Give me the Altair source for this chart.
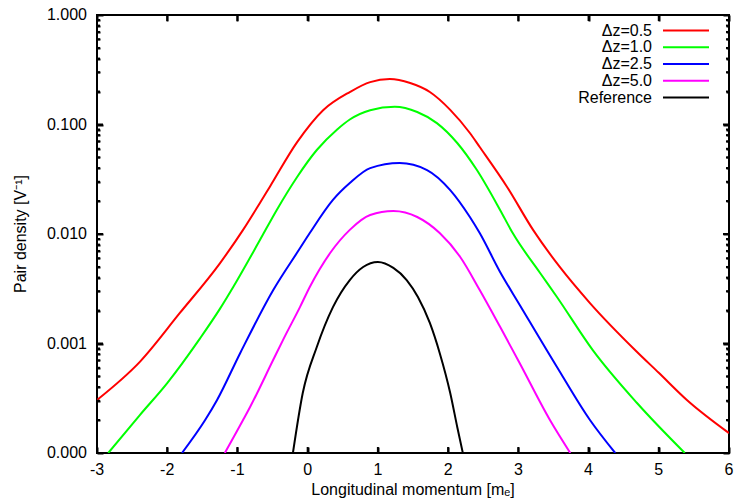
import altair as alt
import pandas as pd

# ---- data -------------------------------------------------------------
series_names = ["Δz=0.5", "Δz=1.0", "Δz=2.5", "Δz=5.0", "Reference"]
series_colors = ["#ff0000", "#00ff00", "#0000ff", "#ff00ff", "#000000"]

x_dz05 = [-3.0, -2.39, -1.82, -1.25, -0.92, -0.68, -0.54, -0.15, 0.22, 0.60, 0.89, 1.17,
          1.46, 1.74, 2.03, 2.31, 2.45, 2.84, 3.21, 3.59, 4.02, 4.68, 5.0, 5.40, 6.0]
y_dz05 = [3.05e-4, 6.8e-4, 1.90e-3, 5.4e-3, 1.09e-2, 1.92e-2, 2.69e-2, 6.9e-2, 0.135, 0.198,
          0.244, 0.260, 0.239, 0.198, 0.136, 0.0836, 0.0623, 0.0269, 0.0109, 5.0e-3, 2.34e-3,
          8.5e-4, 5.4e-4, 3.05e-4, 1.52e-4]

x_dz10 = [-2.84, -2.39, -2.0, -1.53, -1.25, -1.06, -0.68, -0.44, -0.15, 0.13, 0.42, 0.60,
          0.89, 1.24, 1.56, 1.84, 2.13, 2.41, 2.74, 2.92, 3.31, 3.55, 4.06, 4.69, 5.37]
y_dz10 = [1.0e-4, 2.22e-4, 4.35e-4, 1.12e-3, 2.07e-3, 3.28e-3, 8.8e-3, 1.66e-2, 3.32e-2,
          5.85e-2, 9.0e-2, 0.111, 0.135, 0.145, 0.130, 0.103, 0.0678, 0.0384, 0.0166,
          0.0102, 4.4e-3, 2.66e-3, 8.7e-4, 2.86e-4, 1.0e-4]

x_dz25 = [-1.79, -1.46, -1.29, -0.96, -0.49, -0.11, 0.03, 0.36, 0.60, 0.89, 1.31, 1.70,
          2.03, 2.31, 2.45, 2.74, 3.02, 3.55, 4.02, 4.38]
y_dz25 = [1.0e-4, 2.0e-4, 3.05e-4, 8.2e-4, 3.08e-3, 7.4e-3, 1.02e-2, 2.05e-2, 2.92e-2,
          4.0e-2, 4.45e-2, 3.84e-2, 2.52e-2, 1.43e-2, 1.02e-2, 4.5e-3, 2.25e-3, 6.1e-4,
          2.0e-4, 1.0e-4]

x_dz50 = [-1.18, -0.92, -0.82, -0.49, -0.35, -0.11, 0.03, 0.32, 0.60, 0.89, 1.22, 1.56,
          1.88, 2.17, 2.45, 2.74, 3.02, 3.45, 3.74]
y_dz50 = [1.0e-4, 2.0e-4, 2.63e-4, 7.1e-4, 1.08e-3, 2.15e-3, 3.28e-3, 6.7e-3, 1.09e-2,
          1.49e-2, 1.62e-2, 1.43e-2, 1.02e-2, 6.2e-3, 3.08e-3, 1.42e-3, 6.6e-4, 2.0e-4,
          1.0e-4]

x_ref = [-0.21, -0.07, 0.13, 0.36, 0.60, 0.79, 1.00, 1.22, 1.41, 1.57, 1.74, 1.88, 2.03,
         2.13, 2.21]
y_ref = [1.0e-4, 3.53e-4, 9.3e-4, 2.15e-3, 3.8e-3, 5.0e-3, 5.55e-3, 4.9e-3, 3.8e-3,
         2.66e-3, 1.54e-3, 8.2e-4, 3.53e-4, 1.73e-4, 1.0e-4]

x_ticks = [-3, -2, -1, 0, 1, 2, 3, 4, 5, 6]
x_tick_labels = ["-3", "-2", "-1", "0", "1", "2", "3", "4", "5", "6"]
y_ticks = [1e-4, 1e-3, 1e-2, 1e-1, 1.0]
y_tick_labels = ["0.000", "0.001", "0.010", "0.100", "1.000"]
y_minor = [k * 10.0 ** e for e in range(-4, 0) for k in range(2, 10)]
x_title = "Longitudinal momentum [mₑ]"
y_title = "Pair density [V⁻¹]"

# ---- build tables -------------------------------------------------------
rows = []
for name, xs, ys in zip(series_names,
                        [x_dz05, x_dz10, x_dz25, x_dz50, x_ref],
                        [y_dz05, y_dz10, y_dz25, y_dz50, y_ref]):
    for xv, yv in zip(xs, ys):
        rows.append({"series": name, "x": xv, "y": yv})
df = pd.DataFrame(rows)
xt = pd.DataFrame({"v": x_ticks, "lab": x_tick_labels})
yt = pd.DataFrame({"v": y_ticks, "lab": y_tick_labels})
ym = pd.DataFrame({"v": y_minor})
leg = pd.DataFrame({"label": series_names})
xtitle_df = pd.DataFrame({"t": [x_title]})
ytitle_df = pd.DataFrame({"t": [y_title]})

W, H = 632, 438
FONT = "Liberation Sans"
FS = 16

xscale = alt.Scale(domain=[-3, 6], nice=False, zero=False)
yscale = alt.Scale(type="log", domain=[1e-4, 1.0], nice=False)
cscale = alt.Scale(domain=series_names, range=series_colors)


def tick_axis(orient, values, size):
    return alt.Axis(orient=orient, values=values, tickSize=size, offset=-size,
                    labels=False, title=None, grid=False, domainOpacity=0,
                    tickColor="#000000", tickWidth=2)


X = lambda f: alt.X(f, scale=xscale, axis=None)
Y = lambda f: alt.Y(f, scale=yscale, axis=None)

lines = alt.Chart(df).mark_line(strokeWidth=2, clip=True, interpolate="monotone").encode(
    x=alt.X("x:Q", scale=xscale, axis=tick_axis("bottom", x_ticks, 6)),
    y=alt.Y("y:Q", scale=yscale, axis=tick_axis("left", y_ticks, 6)),
    color=alt.Color("series:N", scale=cscale, legend=None),
    detail="series:N",
)

ghost = alt.Chart(df).mark_point(opacity=0)
g_top_right = ghost.encode(
    x=alt.X("x:Q", scale=xscale, axis=tick_axis("top", x_ticks, 6)),
    y=alt.Y("y:Q", scale=yscale, axis=tick_axis("right", y_ticks, 6)))
g_minor_left = ghost.encode(
    x=X("x:Q"), y=alt.Y("y:Q", scale=yscale, axis=tick_axis("left", y_minor, 3)))
g_minor_right = ghost.encode(
    x=X("x:Q"), y=alt.Y("y:Q", scale=yscale, axis=tick_axis("right", y_minor, 3)))

TC = "#000000"
TW = 2
xtick = alt.Chart(xt).mark_rule(color=TC, strokeWidth=TW)
bx = xtick.encode(x=X("v:Q"), y=alt.value(H), y2=alt.value(H - 6))
tx = xtick.encode(x=X("v:Q"), y=alt.value(0), y2=alt.value(6))
ytick = alt.Chart(yt).mark_rule(color=TC, strokeWidth=TW)
ly = ytick.encode(y=Y("v:Q"), x=alt.value(0), x2=alt.value(6))
ry = ytick.encode(y=Y("v:Q"), x=alt.value(W), x2=alt.value(W - 6))
mtick = alt.Chart(ym).mark_rule(color=TC, strokeWidth=TW)
lm = mtick.encode(y=Y("v:Q"), x=alt.value(0), x2=alt.value(3))
rm = mtick.encode(y=Y("v:Q"), x=alt.value(W), x2=alt.value(W - 3))

txt = dict(font=FONT, fontSize=FS, color="black")
xlab = alt.Chart(xt).mark_text(align="center", baseline="top", **txt).encode(
    x=X("v:Q"), y=alt.value(H + 9), text="lab:N")
ylab = alt.Chart(yt).mark_text(align="right", baseline="middle", **txt).encode(
    y=Y("v:Q"), x=alt.value(-10), text="lab:N")
xtitle = alt.Chart(xtitle_df).mark_text(align="center", baseline="top", **txt).encode(
    x=alt.value(W / 2), y=alt.value(H + 29), text="t:N")
ytitle = alt.Chart(ytitle_df).mark_text(align="center", baseline="middle", angle=270,
                                        **txt).encode(
    x=alt.value(-76), y=alt.value(H / 2), text="t:N")

leg_off = alt.YOffset("label:N", sort=series_names,
                      scale=alt.Scale(type="point", range=[15.5, 82.5], padding=0))
leg_text = alt.Chart(leg).mark_text(align="right", baseline="middle", **txt).encode(
    x=alt.value(555), y=alt.value(0), yOffset=leg_off, text="label:N")
leg_line = alt.Chart(leg).mark_rule(strokeWidth=2).encode(
    x=alt.value(566), x2=alt.value(612), y=alt.value(0), yOffset=leg_off,
    color=alt.Color("label:N", scale=cscale, legend=None))

chart = alt.layer(lines, g_top_right, g_minor_left, g_minor_right,
                  bx, tx, ly, ry, lm, rm, xlab, ylab, xtitle, ytitle,
                  leg_text, leg_line).resolve_axis(x="independent", y="independent").properties(
    width=W, height=H,
    autosize=alt.AutoSizeParams(type="none"),
    padding={"left": 97, "top": 15, "right": 8, "bottom": 51},
    background="white",
).configure_view(stroke="black", strokeWidth=2)

chart.save("out.html", embed_options={"renderer": "svg", "actions": False})
